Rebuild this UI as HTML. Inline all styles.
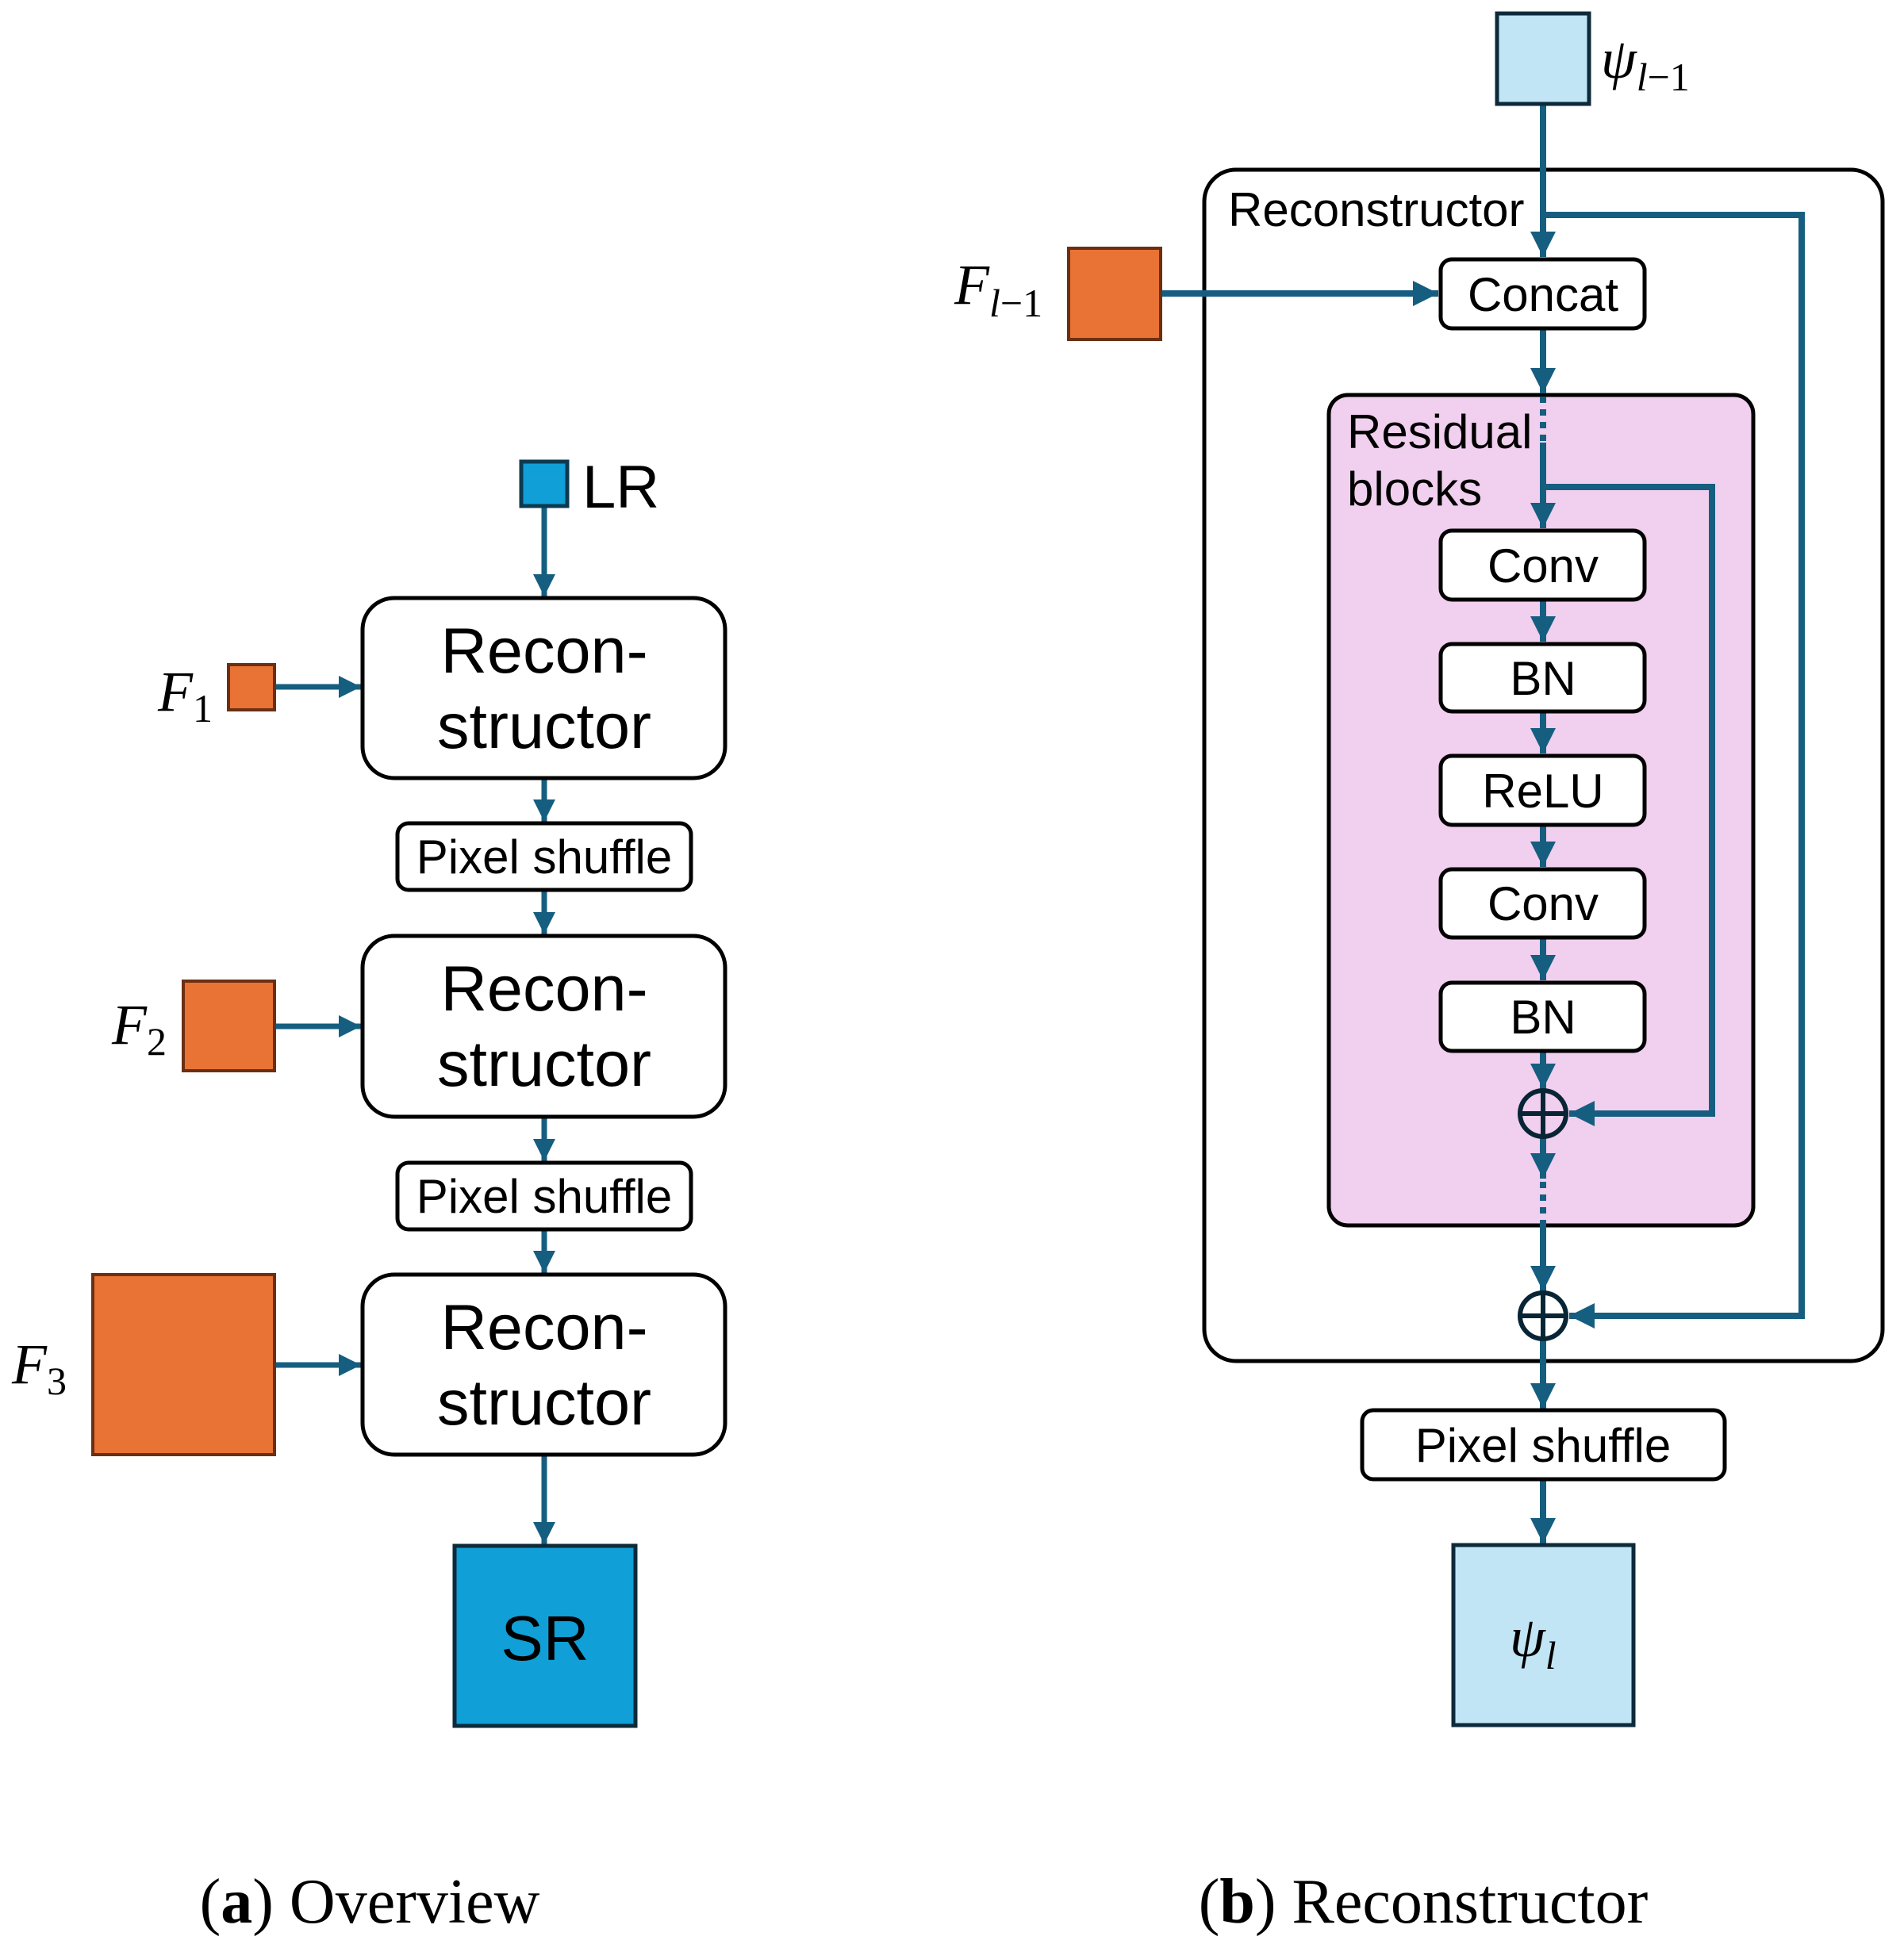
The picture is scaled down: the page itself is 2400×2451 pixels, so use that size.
<!DOCTYPE html>
<html><head><meta charset="utf-8"><style>body{margin:0;background:#fff}svg{display:block}</style></head>
<body>
<svg width="2400" height="2451" viewBox="0 0 2400 2451" xmlns="http://www.w3.org/2000/svg">
<defs>
<marker id="a" viewBox="0 0 10 10" refX="10" refY="5" markerWidth="4" markerHeight="4" markerUnits="strokeWidth" orient="auto"><path d="M0,0L10,5L0,10z" fill="#165e80"/></marker>
</defs>
<g font-family="Liberation Sans, sans-serif" fill="#000">
<g transform="translate(-1,-4)">
<g stroke="#165e80" stroke-width="7" fill="none" marker-end="url(#a)">
<line x1="687" y1="643" x2="687" y2="756"/>
<line x1="347" y1="870" x2="456" y2="870"/>
<line x1="687" y1="985" x2="687" y2="1040"/>
<line x1="687" y1="1126" x2="687" y2="1182"/>
<line x1="347" y1="1298" x2="456" y2="1298"/>
<line x1="687" y1="1412" x2="687" y2="1468"/>
<line x1="687" y1="1554" x2="687" y2="1609"/>
<line x1="347" y1="1725" x2="456" y2="1725"/>
<line x1="687" y1="1838" x2="687" y2="1951"/>
</g>
<rect x="658" y="586" width="58" height="56" fill="#109fd6" stroke="#0c3a50" stroke-width="5"/>
<text x="735" y="644" font-size="76">LR</text>
<g fill="#fff" stroke="#000" stroke-width="5">
<rect x="458" y="758" width="457" height="227" rx="40"/>
<rect x="502" y="1042" width="370" height="84" rx="14"/>
<rect x="458" y="1184" width="457" height="228" rx="40"/>
<rect x="502" y="1470" width="370" height="84" rx="14"/>
<rect x="458" y="1611" width="457" height="227" rx="40"/>
</g>
<g font-size="81" text-anchor="middle">
<text x="687" y="852">Recon-</text><text x="687" y="947">structor</text>
<text x="687" y="1278">Recon-</text><text x="687" y="1373">structor</text>
<text x="687" y="1705">Recon-</text><text x="687" y="1800">structor</text>
</g>
<g font-size="60" text-anchor="middle">
<text x="687" y="1105">Pixel shuffle</text>
<text x="687" y="1533">Pixel shuffle</text>
</g>
<g fill="#e87335" stroke="#6b2f12" stroke-width="4">
<rect x="289" y="842" width="58" height="57"/>
<rect x="232" y="1241" width="115" height="113"/>
<rect x="118" y="1611" width="229" height="227"/>
</g>
<rect x="574" y="1953" width="228" height="227" fill="#109fd6" stroke="#0c2a3a" stroke-width="5"/>
<text x="688" y="2097" font-size="80" text-anchor="middle">SR</text>
<g font-family="Liberation Serif, serif" font-style="italic" font-size="72">
<text x="200" y="900">F<tspan font-size="50" font-style="normal" dy="14">1</tspan></text>
<text x="142" y="1320">F<tspan font-size="50" font-style="normal" dy="14">2</tspan></text>
<text x="16" y="1748">F<tspan font-size="50" font-style="normal" dy="14">3</tspan></text>
</g>
</g>
<g transform="translate(-5,-2)">
<rect x="1523" y="216" width="855" height="1502" rx="40" fill="#fff" stroke="#000" stroke-width="5"/>
<rect x="1680" y="500" width="535" height="1047" rx="24" fill="#f1cfee" stroke="#000" stroke-width="5"/>
<g stroke="#165e80" stroke-width="8" fill="none">
<line x1="1950" y1="133" x2="1950" y2="326" marker-end="url(#a)"/>
<polyline points="1950,273 2276,273 2276,1661 1983,1661" marker-end="url(#a)"/>
<line x1="1468" y1="372" x2="1818" y2="372" marker-end="url(#a)"/>
<line x1="1950" y1="416" x2="1950" y2="498" marker-end="url(#a)"/>
<line x1="1950" y1="502" x2="1950" y2="560" stroke-dasharray="8,8"/>
<line x1="1950" y1="560" x2="1950" y2="668" marker-end="url(#a)"/>
<polyline points="1950,616 2163,616 2163,1406 1983,1406" marker-end="url(#a)"/>
<line x1="1950" y1="758" x2="1950" y2="811" marker-end="url(#a)"/>
<line x1="1950" y1="899" x2="1950" y2="952" marker-end="url(#a)"/>
<line x1="1950" y1="1042" x2="1950" y2="1095" marker-end="url(#a)"/>
<line x1="1950" y1="1184" x2="1950" y2="1238" marker-end="url(#a)"/>
<line x1="1950" y1="1327" x2="1950" y2="1375" marker-end="url(#a)"/>
<line x1="1950" y1="1435" x2="1950" y2="1488" marker-end="url(#a)"/>
<line x1="1950" y1="1492" x2="1950" y2="1545" stroke-dasharray="8,8"/>
<line x1="1950" y1="1545" x2="1950" y2="1630" marker-end="url(#a)"/>
<line x1="1950" y1="1690" x2="1950" y2="1778" marker-end="url(#a)"/>
<line x1="1950" y1="1867" x2="1950" y2="1948" marker-end="url(#a)"/>
</g>
<g stroke="#082536" stroke-width="6" fill="none">
<circle cx="1950" cy="1406" r="29"/><line x1="1921" y1="1406" x2="1979" y2="1406"/><line x1="1950" y1="1377" x2="1950" y2="1435"/>
<circle cx="1950" cy="1661" r="29"/><line x1="1921" y1="1661" x2="1979" y2="1661"/><line x1="1950" y1="1632" x2="1950" y2="1690"/>
</g>
<rect x="1892" y="19" width="116" height="114" fill="#c1e5f5" stroke="#0c2a3a" stroke-width="5"/>
<rect x="1352" y="315" width="116" height="115" fill="#e87335" stroke="#6b2f12" stroke-width="4"/>
<rect x="1837" y="1950" width="227" height="227" fill="#c1e5f5" stroke="#0c2a3a" stroke-width="5"/>
<g fill="#fff" stroke="#000" stroke-width="5">
<rect x="1821" y="329" width="257" height="87" rx="14"/>
<rect x="1821" y="671" width="257" height="87" rx="14"/>
<rect x="1821" y="814" width="257" height="85" rx="14"/>
<rect x="1821" y="955" width="257" height="87" rx="14"/>
<rect x="1821" y="1098" width="257" height="86" rx="14"/>
<rect x="1821" y="1241" width="257" height="86" rx="14"/>
<rect x="1722" y="1780" width="457" height="87" rx="14"/>
</g>
<g font-size="60" text-anchor="middle">
<text x="1950" y="394">Concat</text>
<text x="1950" y="736">Conv</text>
<text x="1950" y="878">BN</text>
<text x="1950" y="1020">ReLU</text>
<text x="1950" y="1162">Conv</text>
<text x="1950" y="1305">BN</text>
<text x="1950" y="1845">Pixel shuffle</text>
</g>
<text x="1553" y="287" font-size="60">Reconstructor</text>
<text x="1703" y="567" font-size="60">Residual</text>
<text x="1703" y="639" font-size="60">blocks</text>
<g font-family="Liberation Serif, serif" font-style="italic" font-size="72">
<text x="2023" y="100">ψ<tspan font-size="50" dy="16">l</tspan><tspan font-size="50" font-style="normal">−1</tspan></text>
<text x="1208" y="385">F<tspan font-size="50" dy="16">l</tspan><tspan font-size="50" font-style="normal">−1</tspan></text>
<text x="1908" y="2090">ψ<tspan font-size="50" dy="16">l</tspan></text>
</g>
</g>
<g font-family="Liberation Serif, serif" font-size="80" text-anchor="middle">
<text x="466" y="2424">(<tspan font-weight="bold">a</tspan>) Overview</text>
<text x="1794" y="2424">(<tspan font-weight="bold">b</tspan>) Reconstructor</text>
</g>
</g>
</svg>
</body></html>
